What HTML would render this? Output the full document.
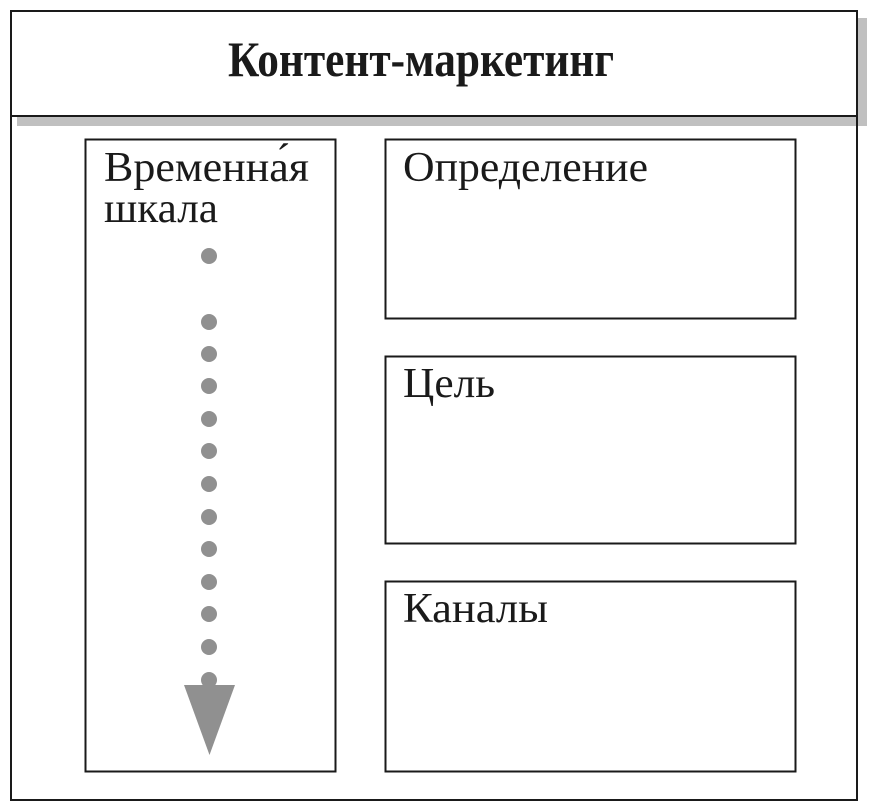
<!DOCTYPE html>
<html><head><meta charset="utf-8"><style>
html,body{margin:0;padding:0;background:#fff;}
svg{display:block;}
</style></head><body>
<svg width="877" height="812" viewBox="0 0 877 812" xmlns="http://www.w3.org/2000/svg">
<rect x="17" y="18" width="850" height="108" fill="#c0c0c0"/>
<rect x="11" y="11" width="846" height="789" fill="none" stroke="#1a1a1a" stroke-width="2"/>
<rect x="11" y="11" width="846" height="105" fill="#fff" stroke="#1a1a1a" stroke-width="2"/>
<text x="421" y="76" text-anchor="middle" font-family="Liberation Serif, serif" font-weight="bold" font-size="50" fill="#1a1a1a" textLength="386" lengthAdjust="spacingAndGlyphs">Контент-маркетинг</text>
<rect x="85.5" y="139.5" width="250" height="632" fill="#fff" stroke="#1a1a1a" stroke-width="2"/>
<rect x="385.5" y="139.5" width="410" height="179" fill="#fff" stroke="#1a1a1a" stroke-width="2"/>
<rect x="385.5" y="356.5" width="410" height="187" fill="#fff" stroke="#1a1a1a" stroke-width="2"/>
<rect x="385.5" y="581.5" width="410" height="190" fill="#fff" stroke="#1a1a1a" stroke-width="2"/>
<g font-family="Liberation Serif, serif" font-size="42" fill="#1a1a1a">
<text x="104" y="181" textLength="205" lengthAdjust="spacingAndGlyphs">Временна́я</text>
<text x="104" y="222" textLength="114" lengthAdjust="spacingAndGlyphs">шкала</text>
<text x="403" y="181" textLength="245" lengthAdjust="spacingAndGlyphs">Определение</text>
<text x="403" y="397" textLength="92" lengthAdjust="spacingAndGlyphs">Цель</text>
<text x="403" y="622" textLength="145" lengthAdjust="spacingAndGlyphs">Каналы</text>
</g>
<g fill="#909090">
<circle cx="209" cy="256" r="8"/>
<circle cx="209" cy="322" r="8"/>
<circle cx="209" cy="354" r="8"/>
<circle cx="209" cy="386" r="8"/>
<circle cx="209" cy="419" r="8"/>
<circle cx="209" cy="451" r="8"/>
<circle cx="209" cy="484" r="8"/>
<circle cx="209" cy="517" r="8"/>
<circle cx="209" cy="549" r="8"/>
<circle cx="209" cy="582" r="8"/>
<circle cx="209" cy="614" r="8"/>
<circle cx="209" cy="647" r="8"/>
<circle cx="209" cy="680" r="8"/>
<polygon points="184,685 235,685 209.5,755"/>
</g>
</svg>
</body></html>
